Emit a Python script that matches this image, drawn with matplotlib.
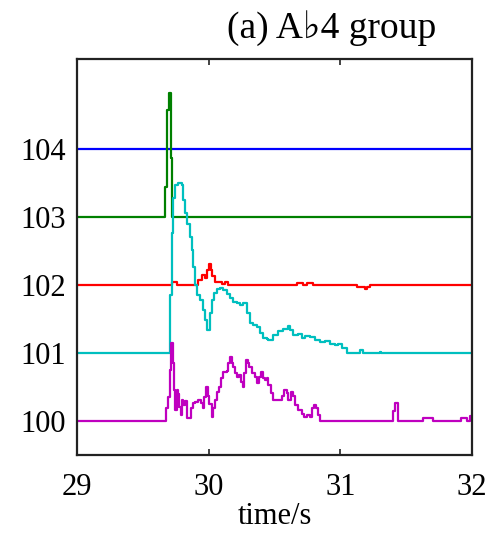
import matplotlib.pyplot as plt
import numpy as np

plt.rcParams['font.family'] = ['Liberation Serif', 'DejaVu Serif']

# channel traces, each offset by one unit (step data: time, value)
t_blue = [29.0, 32.0]
v_blue = [104.0, 104.0]

t_green = [29.0, 29.668, 29.686, 29.699, 29.711, 29.721, 32.0]
v_green = [103.0, 103.44, 104.57, 104.83, 103.87, 103.0, 103.0]

t_red = [29.0, 29.719, 29.757, 29.921, 29.947, 29.972, 29.985, 30.002, 30.015,
         30.027, 30.048, 30.073, 30.099, 30.124, 30.149, 30.668, 30.718, 30.744,
         30.794, 31.124, 31.187, 31.200, 31.225, 32.0]
v_red = [102.0, 102.05, 102.0, 102.07, 102.15, 102.10, 102.22, 102.31, 102.22,
         102.13, 102.04, 102.05, 102.02, 102.04, 102.0, 102.03, 102.0, 102.03,
         102.0, 101.97, 101.94, 101.97, 102.0, 102.0]

t_cyan = [29.0, 29.706, 29.719, 29.727, 29.744, 29.769, 29.795, 29.807, 29.820,
          29.838, 29.858, 29.871, 29.883, 29.896, 29.909, 29.934, 29.954, 29.972,
          29.985, 30.010, 30.023, 30.040, 30.061, 30.086, 30.111, 30.137, 30.162,
          30.187, 30.213, 30.238, 30.263, 30.289, 30.314, 30.339, 30.364, 30.390,
          30.415, 30.440, 30.453, 30.491, 30.529, 30.567, 30.604, 30.617, 30.642,
          30.680, 30.706, 30.731, 30.769, 30.807, 30.845, 30.883, 30.921, 30.959,
          30.984, 31.010, 31.048, 31.149, 31.174, 31.301, 31.310, 32.0]
v_cyan = [101.0, 101.85, 102.76, 103.28, 103.47, 103.50, 103.47, 103.25, 103.06,
          102.90, 102.71, 102.51, 102.27, 102.0, 101.85, 101.78, 101.63, 101.49,
          101.34, 101.59, 101.78, 101.88, 101.94, 101.96, 101.93, 101.87, 101.81,
          101.75, 101.74, 101.71, 101.73, 101.59, 101.44, 101.42, 101.39, 101.29,
          101.22, 101.21, 101.19, 101.26, 101.32, 101.36, 101.40, 101.34, 101.26,
          101.28, 101.22, 101.25, 101.23, 101.19, 101.17, 101.18, 101.14, 101.12,
          101.13, 101.07, 101.0, 101.04, 101.0, 101.02, 101.0, 101.0]

t_mag = [29.0, 29.676, 29.693, 29.706, 29.714, 29.727, 29.737, 29.744, 29.757,
         29.769, 29.777, 29.787, 29.795, 29.807, 29.820, 29.833, 29.853, 29.863,
         29.878, 29.896, 29.921, 29.939, 29.954, 29.967, 29.979, 29.992, 30.005,
         30.023, 30.035, 30.048, 30.061, 30.078, 30.093, 30.111, 30.137, 30.149,
         30.162, 30.175, 30.187, 30.200, 30.218, 30.233, 30.243, 30.258, 30.268,
         30.283, 30.296, 30.308, 30.326, 30.352, 30.369, 30.384, 30.397, 30.415,
         30.427, 30.440, 30.453, 30.471, 30.491, 30.529, 30.554, 30.574, 30.592,
         30.604, 30.622, 30.638, 30.655, 30.680, 30.706, 30.724, 30.744, 30.769,
         30.787, 30.802, 30.815, 30.827, 30.845, 31.397, 31.415, 31.440, 31.630,
         31.705, 31.920, 31.960, 31.985, 32.0]
v_mag = [100.0, 100.19, 100.36, 100.75, 101.15, 100.85, 100.46, 100.16, 100.46,
         100.40, 100.21, 100.09, 100.31, 100.24, 100.29, 100.04, 100.04, 100.19,
         100.26, 100.28, 100.31, 100.26, 100.19, 100.36, 100.50, 100.37, 100.25,
         100.06, 100.19, 100.31, 100.43, 100.50, 100.63, 100.72, 100.74, 100.85,
         100.94, 100.85, 100.79, 100.70, 100.65, 100.68, 100.58, 100.50, 100.70,
         100.90, 100.85, 100.79, 100.70, 100.65, 100.56, 100.65, 100.72, 100.63,
         100.60, 100.63, 100.53, 100.41, 100.31, 100.31, 100.37, 100.46, 100.41,
         100.31, 100.43, 100.37, 100.24, 100.16, 100.11, 100.06, 100.09, 100.06,
         100.19, 100.24, 100.19, 100.09, 100.0, 100.15, 100.27, 100.0, 100.04,
         100.0, 100.04, 100.0, 100.07, 100.02]

fig = plt.figure(figsize=(5.04, 5.33), dpi=100)
ax = fig.add_axes([0.1528, 0.1463, 0.7837, 0.7421])

lw = 1.6
ax.plot(t_blue, v_blue, color='b', lw=lw, drawstyle='steps-post')
ax.plot(t_green, v_green, color='g', lw=lw, drawstyle='steps-post')
ax.plot(t_red, v_red, color='r', lw=lw, drawstyle='steps-post')
ax.plot(t_cyan, v_cyan, color='c', lw=lw, drawstyle='steps-post')
ax.plot(t_mag, v_mag, color='m', lw=lw, drawstyle='steps-post')

ax.set_xlim(29, 32)
ax.set_ylim(99.5, 105.32)
ax.set_xticks([29, 30, 31, 32])
ax.set_yticks([100, 101, 102, 103, 104])
ax.tick_params(axis='x', direction='in', top=True, length=4, width=1.2,
               labelsize=22, pad=13, colors='#222222', labelcolor='black')
ax.tick_params(axis='y', length=0, labelsize=22, pad=8)
for s in ax.spines.values():
    s.set_linewidth(1.6)
    s.set_color('#222222')

ax.set_xlabel('time/s', fontsize=22, labelpad=0)
fig.text(0.658, 0.947, '(a) A\u266d4 group', fontsize=27, ha='center', va='center')

fig.savefig('out.png', dpi=100)
